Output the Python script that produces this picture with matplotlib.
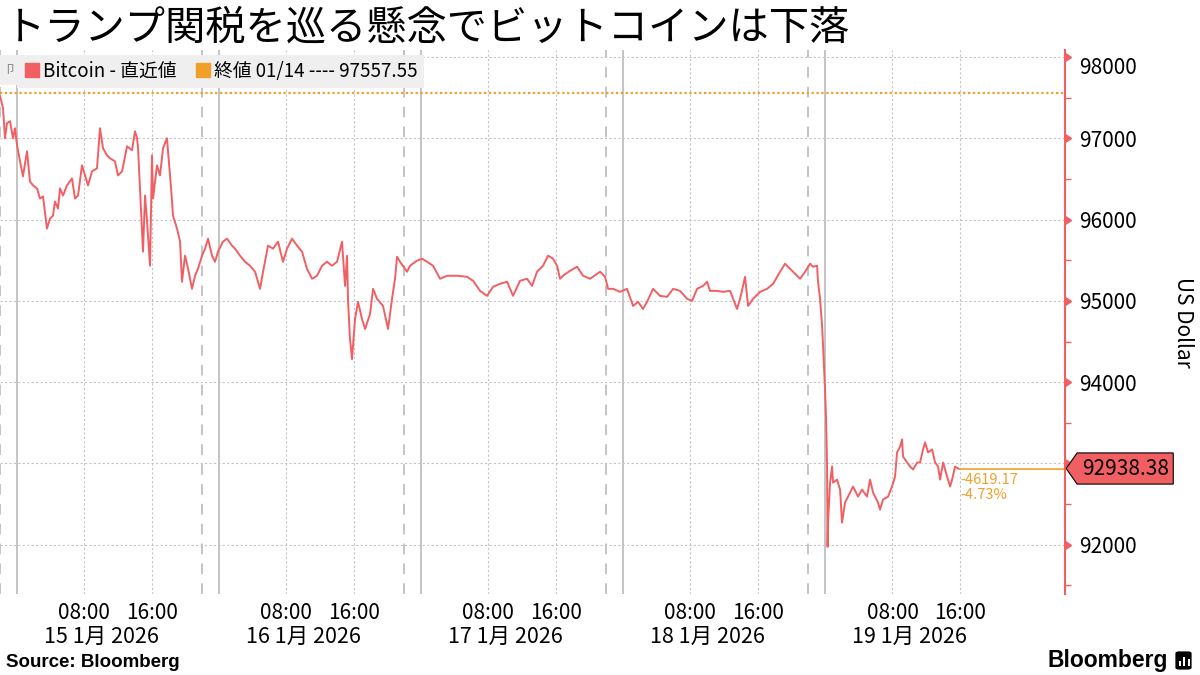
"""Bitcoin intraday price, 15-19 Jan 2026 (Bloomberg-style chart)."""

import matplotlib

matplotlib.use("Agg")
import matplotlib.pyplot as plt  # noqa: E402
import matplotlib.dates as mdates  # noqa: E402
import pandas as pd  # noqa: E402
from matplotlib.lines import Line2D  # noqa: E402
from matplotlib.path import Path  # noqa: E402
from matplotlib.patches import FancyBboxPatch, Rectangle  # noqa: E402

plt.rcParams["font.family"] = ["Noto Sans CJK JP", "DejaVu Sans"]

TITLE = "トランプ関税を巡る懸念でビットコインは下落"
START = pd.Timestamp("2026-01-15 00:00")

# hours after 15 Jan 00:00
hours = [
    -2.02, -1.66, -1.43, -1.19, -0.83, -0.48, -0.24, 0.00, 0.36, 0.71,
    0.95, 1.19, 1.54, 1.90, 2.38, 2.73, 3.09, 3.56, 3.92, 4.28,
    4.51, 4.87, 5.11, 5.47, 5.94, 6.53, 6.89, 7.25, 7.72, 8.08,
    8.44, 8.91, 9.50, 9.86, 10.22, 10.69, 11.05, 11.64, 12.00, 12.48,
    13.07, 13.66, 14.02, 14.26, 14.38, 14.61, 14.85, 14.97, 15.21, 15.45,
    15.80, 16.04, 16.16, 16.63, 16.99, 17.35, 17.82, 17.94, 18.18, 18.42,
    18.53, 19.01, 19.37, 19.60, 19.96, 20.32, 20.79, 21.15, 21.50, 21.98,
    22.34, 22.69, 23.17, 23.52, 23.88, 24.47, 24.95, 25.54, 25.90, 26.49,
    27.09, 27.68, 28.28, 28.87, 29.23, 29.82, 30.42, 31.01, 31.60, 32.08,
    32.67, 33.27, 33.86, 34.45, 35.05, 35.64, 36.24, 36.83, 37.42, 38.02,
    38.61, 38.97, 39.21, 39.33, 39.56, 39.80, 40.16, 40.51, 40.99, 41.35,
    41.94, 42.30, 42.77, 43.48, 44.08, 44.55, 44.91, 45.15, 45.50, 46.34,
    46.69, 47.52, 48.12, 48.71, 49.42, 50.26, 51.09, 52.28, 53.46, 54.18,
    55.01, 55.84, 56.55, 57.38, 58.22, 58.93, 59.76, 60.59, 61.19, 61.78,
    62.49, 63.09, 63.68, 64.16, 64.51, 64.87, 65.70, 66.53, 67.25, 68.08,
    69.27, 69.86, 70.22, 70.81, 71.64, 72.47, 73.19, 73.78, 74.37, 74.85,
    75.56, 76.39, 77.23, 77.94, 78.77, 79.60, 80.20, 80.79, 81.50, 81.98,
    82.33, 83.17, 83.88, 84.71, 85.54, 85.90, 86.49, 86.85, 87.44, 88.28,
    89.11, 89.82, 90.65, 91.24, 91.84, 92.43, 93.03, 93.62, 94.21, 94.57,
    95.05, 95.16, 95.40, 95.64, 95.76, 95.99, 96.11, 96.23, 96.29, 96.35,
    96.59, 96.83, 96.94, 97.42, 97.78, 98.01, 98.37, 98.73, 99.32, 99.91,
    100.39, 100.98, 101.34, 101.70, 102.29, 102.53, 102.88, 103.48, 103.95, 104.31,
    104.55, 104.91, 105.14, 105.26, 105.74, 106.10, 106.45, 106.93, 107.28, 107.64,
    107.88, 108.23, 108.71, 109.07, 109.42, 109.66, 110.02, 110.49, 110.85, 111.09,
    111.44, 111.80,
]
price = [
    97520, 97370, 97000, 97185, 97210, 97000, 97123, 96914, 96716, 96531,
    96690, 96840, 96469, 96420, 96383, 96259, 96284, 95889, 96012, 96049,
    96222, 96136, 96383, 96296, 96420, 96506, 96259, 96296, 96667, 96543,
    96420, 96593, 96630, 97123, 96877, 96790, 96753, 96716, 96543, 96593,
    96901, 96852, 97086, 97000, 96877, 96383, 95889, 95605, 96296, 95975,
    95432, 96790, 96259, 96667, 96543, 96877, 97000, 96840, 96543, 96222,
    96049, 95889, 95728, 95235, 95556, 95395, 95148, 95309, 95395, 95556,
    95642, 95765, 95556, 95481, 95605, 95728, 95765, 95679, 95642, 95556,
    95481, 95432, 95358, 95148, 95358, 95679, 95642, 95728, 95481, 95642,
    95765, 95679, 95605, 95395, 95272, 95309, 95432, 95481, 95432, 95481,
    95728, 95185, 95556, 94988, 94531, 94284, 94778, 94988, 94778, 94654,
    94839, 95148, 95025, 94938, 94654, 95025, 95272, 95543, 95481, 95358,
    95432, 95494, 95519, 95481, 95432, 95272, 95309, 95309, 95296, 95247,
    95123, 95062, 95173, 95210, 95235, 95062, 95247, 95272, 95185, 95358,
    95432, 95556, 95519, 95432, 95272, 95309, 95370, 95420, 95309, 95272,
    95358, 95296, 95148, 95148, 95111, 95148, 94938, 94988, 94901, 94988,
    95148, 95062, 95049, 95148, 95123, 95025, 95000, 95148, 95185, 95235,
    95123, 95123, 95111, 95123, 94901, 95025, 95296, 94938, 95025, 95111,
    95148, 95210, 95358, 95457, 95395, 95333, 95272, 95358, 95457, 95420,
    95432, 95235, 95025, 94691, 94444, 93914, 93580, 93012, 91975, 92272,
    92765, 92963, 92765, 92802, 92679, 92272, 92519, 92593, 92716, 92593,
    92679, 92593, 92802, 92642, 92519, 92432, 92556, 92593, 92716, 92840,
    93136, 93210, 93296, 93086, 93012, 92963, 92926, 93012, 93012, 93173,
    93259, 93136, 93173, 93012, 92963, 92802, 93012, 92840, 92716, 92802,
    92963, 92938.38,
]

prev_close = 97557.55
last_price = 92938.38
change = -4619.17
change_pct = -4.73

days = ["2026-01-15", "2026-01-16", "2026-01-17", "2026-01-18", "2026-01-19"]
day_labels = ["15 1月 2026", "16 1月 2026", "17 1月 2026", "18 1月 2026", "19 1月 2026"]
yticks = [92000, 93000, 94000, 95000, 96000, 97000, 98000]

RED = "#f25f63"
ORANGE = "#f0a02a"
GRID = "#c4c4c4"
DAYLINE = "#b4b4b4"


def tag_box(x0, y0, width, height, mutation_size):
    pad = 0.22 * mutation_size
    x0, y0 = x0 - pad, y0 - pad
    w, h = width + 2 * pad, height + 2 * pad
    tip = h * 0.35
    verts = [(x0 - tip, y0 + h / 2), (x0, y0), (x0 + w, y0),
             (x0 + w, y0 + h), (x0, y0 + h), (x0 - tip, y0 + h / 2)]
    return Path(verts, closed=True)


times = START + pd.to_timedelta(hours, unit="h")
day_starts = pd.to_datetime(days)

fig = plt.figure(figsize=(12, 6.75), dpi=100)
ax = fig.add_axes([0.0, 0.12, 0.8875, 0.806])

x_left = START - pd.Timedelta(hours=2.02)
x_right = START + pd.Timedelta(hours=124.5)
ax.set_xlim(x_left, x_right)
ax.set_ylim(91395, 98086)

# day boundaries and session marks
for d in day_starts:
    ax.axvline(d, color=DAYLINE, lw=1.1, zorder=1)
    ax.axvline(d - pd.Timedelta(hours=2), color=DAYLINE, lw=1.1,
               ls=(0, (7, 6)), zorder=1)

major = [d + pd.Timedelta(hours=h) for d in day_starts for h in (8, 16)]
ax.set_xticks(major)
ax.xaxis.set_major_formatter(mdates.DateFormatter("%H:%M"))
ax.set_xticks([d + pd.Timedelta(hours=10) for d in day_starts], day_labels, minor=True)
ax.tick_params(axis="x", which="major", length=0, pad=6, labelsize=15)
ax.tick_params(axis="x", which="minor", length=0, pad=23, labelsize=15.5)
ax.grid(axis="x", which="major", ls=(0, (2, 2)), color=GRID, lw=0.8)
ax.grid(axis="y", which="major", ls=(0, (2, 2)), color=GRID, lw=0.8)

ax.axhline(prev_close, color=ORANGE, ls=(0, (1, 1.2)), lw=1.6, zorder=2)
ax.plot(times, price, color=RED, lw=1.4, zorder=3)
ax.hlines(last_price, times[-1], x_right, color=ORANGE, lw=1.2, zorder=2)

ax.annotate(f"{change:.2f}", xy=(times[-1], last_price), xytext=(2, -8),
            textcoords="offset points", color=ORANGE, fontsize=10.5, va="center")
ax.annotate(f"{change_pct:.2f}%", xy=(times[-1], last_price), xytext=(2, -19),
            textcoords="offset points", color=ORANGE, fontsize=10.5, va="center")

# right axis
ax.yaxis.tick_right()
ax.yaxis.set_label_position("right")
ax.set_yticks(yticks, [f"{v}" if v != 93000 else "" for v in yticks])
ax.set_yticks([v + 500 for v in [91000] + yticks[:-1]], minor=True)
ax.tick_params(axis="y", which="major", length=0, pad=10, labelsize=15)
ax.tick_params(axis="y", which="minor", length=4, width=1, color=RED)
ax.get_yticklabels()[-1].set_va("top")
for side in ("top", "left", "bottom"):
    ax.spines[side].set_visible(False)
ax.spines["right"].set_color(RED)
ax.spines["right"].set_linewidth(1.5)
ax.plot([1.0] * len(yticks), yticks, ls="none", marker=9, ms=6, color=RED,
        transform=ax.get_yaxis_transform(), clip_on=False, zorder=5)
ax.set_ylabel("US Dollar", fontsize=15, rotation=270, va="center", ha="center")
ax.yaxis.set_label_coords(1.111, 0.5)

ax.annotate(f"{last_price:.2f}", xy=(1.0, last_price),
            xycoords=ax.get_yaxis_transform(), xytext=(12, 0),
            textcoords="offset points", va="center", ha="left", fontsize=15,
            bbox=dict(boxstyle=tag_box, fc=RED, ec="black", lw=0.8),
            annotation_clip=False, zorder=6)

handles = [
    Line2D([], [], marker="s", ls="none", color=RED, ms=10),
    Line2D([], [], marker="s", ls="none", color=ORANGE, ms=10),
]
labels = ["Bitcoin - 直近値", "終値 01/14 ---- " + f"{prev_close:.2f}"]
leg = ax.legend(handles, labels, loc="upper left", bbox_to_anchor=(0.016, 0.99),
                ncol=2, fontsize=13.5, frameon=True, fancybox=False, framealpha=1,
                facecolor="#efefef", edgecolor="none", borderpad=0.3,
                handletextpad=0.1, columnspacing=0.9, handlelength=1.0,
                borderaxespad=0.0)
leg.set_zorder(7)
# grey strip to the left of the legend, as in the source chart
ax.add_patch(Rectangle((0.0, 0.935), 0.02, 0.055, transform=ax.transAxes,
                       fc="#efefef", ec="none", zorder=6))
ax.text(0.009, 0.9625, "卩", transform=ax.transAxes, fontsize=8, color="#777777",
        ha="center", va="center", zorder=8)

fig.text(0.004, 0.958, TITLE, fontsize=29, va="center", ha="left")
fig.text(0.005, 0.019, "Source: Bloomberg", fontsize=13.5, fontweight="bold",
         va="center", family=["Liberation Sans", "DejaVu Sans"])
fig.text(0.973, 0.021, "Bloomberg", fontsize=16.5, fontweight="bold", va="center",
         ha="right", family=["Liberation Sans", "DejaVu Sans"])
fig.patches.append(FancyBboxPatch((0.9795, 0.008), 0.0135, 0.027,
                                  boxstyle="round,pad=0,rounding_size=0.003",
                                  transform=fig.transFigure, fc="black", ec="none"))
for i, (bx, bh) in enumerate([(0.9825, 0.008), (0.9862, 0.013), (0.99, 0.010)]):
    fig.patches.append(Rectangle((bx, 0.013), 0.0014, bh, transform=fig.transFigure,
                                 fc="white", ec="none"))

fig.savefig("out.png", dpi=100)
